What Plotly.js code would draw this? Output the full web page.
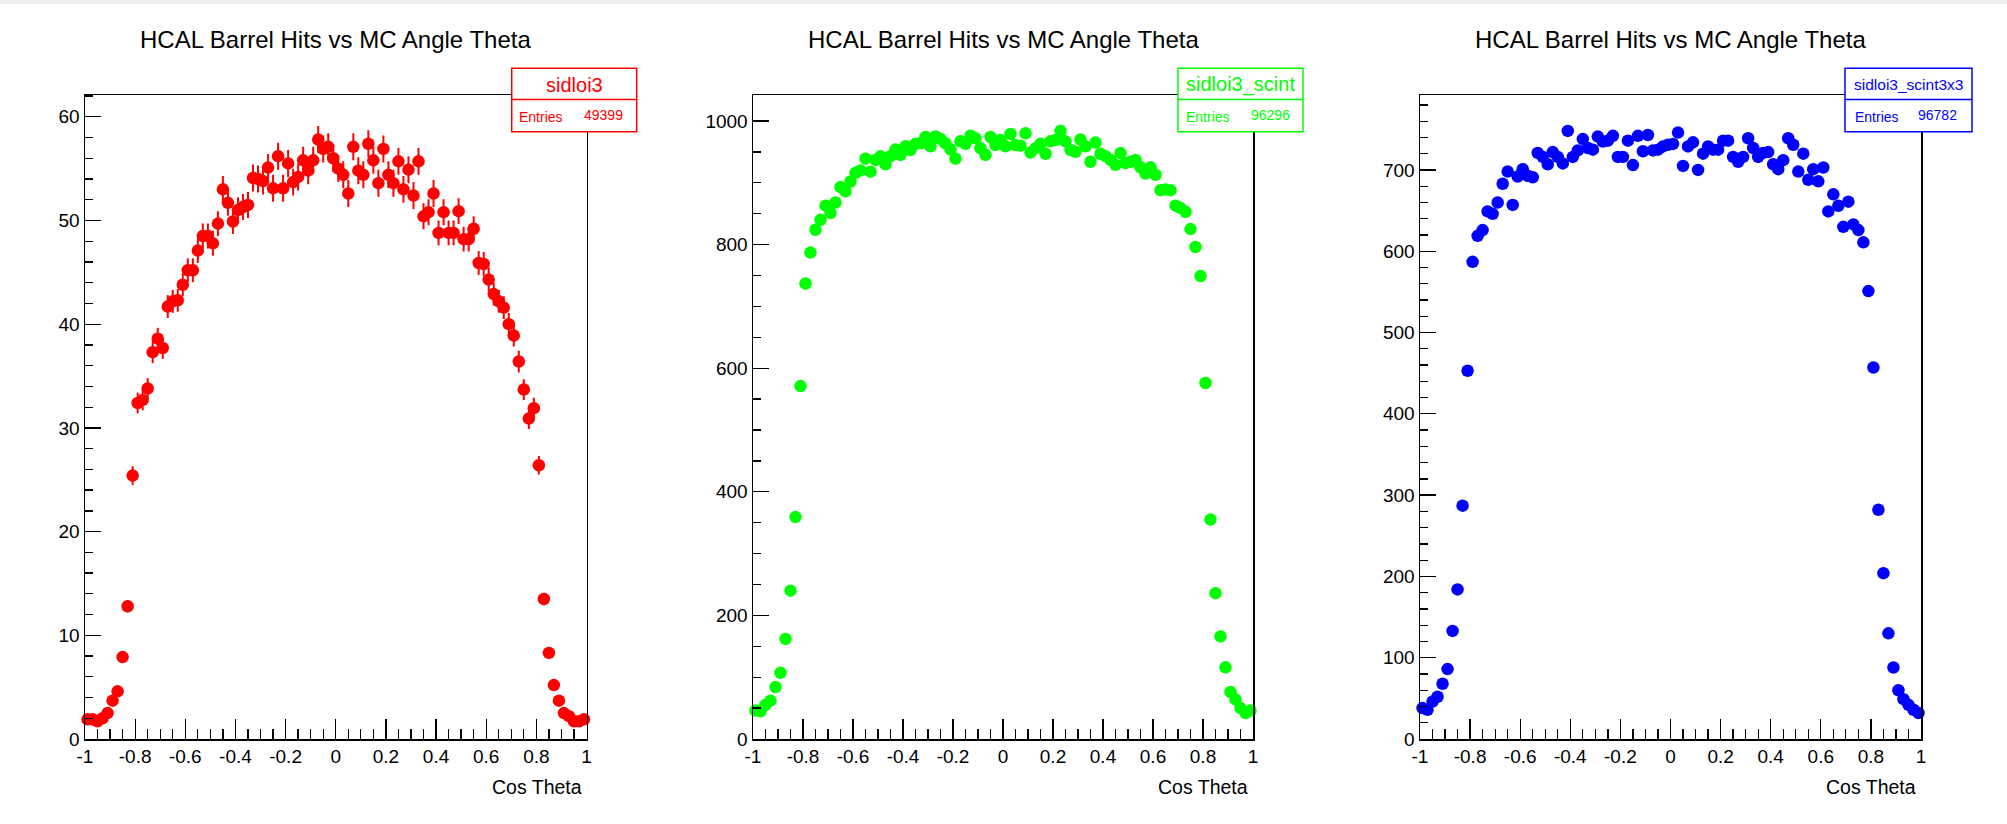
<!DOCTYPE html>
<html>
<head>
<meta charset="utf-8">
<script src="https://cdn.plot.ly/plotly-3.0.1.min.js"></script>
<style>
html,body{margin:0;padding:0;background:#ffffff;overflow:hidden;}
#chart{width:2007px;height:824px;}
</style>
</head>
<body>
<div id="chart"></div>
<script>
// ---------------- DATA ----------------
const chartTitle = "HCAL Barrel Hits vs MC Angle Theta";
const xAxisTitle = "Cos Theta";
const nBins = 100, xMin = -1, xMax = 1;

const seriesNames = ["sidloi3", "sidloi3_scint", "sidloi3_scint3x3"];
const entries = ["49399", "96296", "96782"];

const sidloi3 = [
  1.9, 1.9, 1.7, 2.0, 2.5, 3.7, 4.6, 7.9, 12.8, 25.4,
  32.4, 32.7, 33.8, 37.3, 38.6, 37.7, 41.7, 42.2, 42.3, 43.8,
  45.2, 45.2, 47.1, 48.5, 48.5, 47.8, 49.7, 53.0, 51.7, 49.9,
  51.0, 51.3, 51.5, 54.1, 54.0, 53.8, 55.1, 53.1, 56.2, 53.1,
  55.5, 53.7, 54.2, 55.8, 54.8, 55.8, 57.8, 56.9, 57.1, 56.0,
  55.0, 54.4, 52.6, 57.1, 54.8, 54.4, 57.4, 55.8, 53.6, 56.9,
  54.4, 53.6, 55.7, 53.0, 54.9, 52.4, 55.7, 50.4, 50.8, 52.6,
  48.8, 50.8, 48.8, 48.8, 50.9, 48.2, 48.2, 49.2, 45.9, 45.8,
  44.3, 42.9, 42.2, 41.6, 40.0, 38.9, 36.4, 33.7, 30.9, 31.9,
  26.4, 13.5, 8.3, 5.2, 3.7, 2.5, 2.2, 1.7, 1.7, 1.9
];
const sidloi3Err = [
  0.4, 0.4, 0.4, 0.4, 0.4, 0.45, 0.45, 0.5, 0.6, 0.9,
  1.0, 1.0, 1.0, 1.05, 1.05, 1.05, 1.1, 1.1, 1.1, 1.1,
  1.15, 1.15, 1.2, 1.2, 1.2, 1.2, 1.2, 1.3, 1.25, 1.2,
  1.25, 1.25, 1.25, 1.3, 1.3, 1.3, 1.3, 1.3, 1.3, 1.3,
  1.3, 1.3, 1.3, 1.3, 1.3, 1.3, 1.3, 1.3, 1.3, 1.3,
  1.3, 1.3, 1.3, 1.3, 1.3, 1.3, 1.3, 1.3, 1.3, 1.3,
  1.3, 1.3, 1.3, 1.3, 1.3, 1.3, 1.3, 1.25, 1.25, 1.3,
  1.2, 1.25, 1.2, 1.2, 1.25, 1.2, 1.2, 1.2, 1.15, 1.15,
  1.15, 1.1, 1.1, 1.1, 1.1, 1.05, 1.05, 1.0, 1.0, 1.0,
  0.9, 0.6, 0.5, 0.45, 0.4, 0.4, 0.4, 0.4, 0.4, 0.4
];
const sidloi3Scint = [
  46, 45, 55, 62, 84, 107, 162, 240, 359, 571,
  737, 787, 824, 840, 863, 851, 868, 893, 886, 902,
  916, 920, 939, 918, 937, 943, 930, 943, 954, 945,
  959, 953, 963, 964, 974, 959, 975, 971, 964, 954,
  939, 967, 963, 976, 972, 956, 945, 974, 961, 969,
  959, 979, 961, 960, 980, 949, 956, 963, 947, 967,
  969, 984, 967, 953, 950, 970, 959, 934, 965, 947,
  943, 937, 929, 948, 932, 934, 937, 925, 915, 925,
  913, 888, 889, 888, 863, 859, 853, 825, 796, 749,
  576, 355, 236, 166, 116, 76, 64, 50, 42, 46
];
const sidloi3Scint3x3 = [
  38, 36, 46, 52, 68, 86, 133, 184, 287, 453,
  587, 619, 626, 649, 646, 660, 683, 698, 657, 692,
  701, 693, 691, 721, 716, 707, 722, 716, 708, 748,
  716, 724, 738, 727, 725, 741, 735, 736, 742, 716,
  716, 736, 706, 742, 723, 743, 724, 725, 729, 731,
  732, 746, 705, 729, 734, 700, 720, 729, 725, 725,
  736, 736, 716, 710, 716, 739, 727, 716, 721, 722,
  707, 701, 712, 739, 731, 698, 720, 688, 701, 686,
  703, 649, 670, 656, 630, 661, 633, 626, 611, 551,
  457, 282, 204, 130, 88, 60, 49, 42, 36, 32
];

const xTickVals = [-1, -0.8, -0.6, -0.4, -0.2, 0, 0.2, 0.4, 0.6, 0.8, 1];
const xTickText = ["-1", "-0.8", "-0.6", "-0.4", "-0.2", "0", "0.2", "0.4", "0.6", "0.8", "1"];

// ---------------- LAYOUT ----------------
const W = 2007, H = 824;
const px = v => v / W;
const py = v => 1 - v / H;
const FONT = "Liberation Sans, Arial, Helvetica, sans-serif";
const colors = ["#ff0000", "#00ff00", "#0000ff"];

const binW = (xMax - xMin) / nBins;
const xCenters = [];
for (let i = 0; i < nBins; i++) xCenters.push(xMin + binW * (i + 0.5));

const panels = [
  {x0: 85, x1: 586.5, ymax: 62.1, dtick: 10, minor: 2, box: [511.7, 636.7], titleSize: 20, entX: [517, 625]},
  {x0: 753, x1: 1253, ymax: 1042, dtick: 200, minor: 50, box: [1178, 1303], titleSize: 20, entX: [1184, 1292]},
  {x0: 1420, x1: 1921, ymax: 792.2, dtick: 100, minor: 20, box: [1845, 1972], titleSize: 15.5, entX: [1853, 1959]}
];
const plotTop = 95, plotBot = 739;
const values = [sidloi3, sidloi3Scint, sidloi3Scint3x3];

const data = [];
const layout = {
  width: W, height: H,
  margin: {l: 0, r: 0, t: 0, b: 0, pad: 0},
  paper_bgcolor: "#ffffff", plot_bgcolor: "#ffffff",
  showlegend: false,
  font: {family: FONT, color: "#000000"},
  shapes: [], annotations: []
};

panels.forEach((p, k) => {
  const sfx = k === 0 ? "" : String(k + 1);
  const trace = {
    type: "scatter", mode: "markers",
    x: xCenters, y: values[k],
    xaxis: "x" + sfx, yaxis: "y" + sfx,
    marker: {color: colors[k], size: 12.5, symbol: "circle", line: {width: 0}},
    cliponaxis: false, hoverinfo: "skip"
  };
  if (k === 0) {
    trace.error_y = {type: "data", array: sidloi3Err, visible: true, color: colors[0], thickness: 2, width: 0};
  }
  data.push(trace);

  layout["xaxis" + sfx] = {
    domain: [px(p.x0), px(p.x1)], anchor: "y" + sfx,
    range: [xMin, xMax], tickmode: "array", tickvals: xTickVals, ticktext: xTickText,
    ticks: "inside", ticklen: 20, tickwidth: 1.3, tickcolor: "#000",
    minor: {dtick: 0.05, tick0: -1, ticks: "inside", ticklen: 10, tickwidth: 1.3, tickcolor: "#000", showgrid: false},
    showline: true, mirror: true, linecolor: "#000", linewidth: 1.5,
    showgrid: false, zeroline: false, fixedrange: true,
    tickfont: {family: FONT, size: 19, color: "#000"}
  };
  layout["yaxis" + sfx] = {
    domain: [py(plotBot), py(plotTop)], anchor: "x" + sfx,
    range: [0, p.ymax], tickmode: "linear", tick0: 0, dtick: p.dtick,
    ticks: "inside", ticklen: 16, tickwidth: 1.3, tickcolor: "#000",
    minor: {dtick: p.minor, tick0: 0, ticks: "inside", ticklen: 8, tickwidth: 1.3, tickcolor: "#000", showgrid: false},
    showline: true, mirror: true, linecolor: "#000", linewidth: 1.5,
    showgrid: false, zeroline: false, fixedrange: true,
    tickfont: {family: FONT, size: 19, color: "#000"}
  };

  // title
  layout.annotations.push({
    xref: "paper", yref: "paper", x: px((p.x0 + p.x1) / 2), y: py(39.5),
    xanchor: "center", yanchor: "middle", showarrow: false,
    text: chartTitle, font: {family: FONT, size: 24, color: "#000"}
  });
  // axis title
  layout.annotations.push({
    xref: "paper", yref: "paper", x: px(p.x1 - 3), y: py(787),
    xanchor: "right", yanchor: "middle", showarrow: false,
    text: xAxisTitle, font: {family: FONT, size: 19.5, color: "#000"}
  });
  // stats box
  layout.shapes.push({
    type: "rect", xref: "paper", yref: "paper", layer: "above",
    x0: px(p.box[0]), x1: px(p.box[1]), y0: py(131.7), y1: py(68.3),
    fillcolor: "#ffffff", line: {color: colors[k], width: 1.5}
  });
  layout.shapes.push({
    type: "line", xref: "paper", yref: "paper", layer: "above",
    x0: px(p.box[0]), x1: px(p.box[1]), y0: py(99.5), y1: py(99.5),
    line: {color: colors[k], width: 1.5}
  });
  layout.annotations.push({
    xref: "paper", yref: "paper", x: px((p.box[0] + p.box[1]) / 2), y: py(84.5),
    xanchor: "center", yanchor: "middle", showarrow: false,
    text: seriesNames[k], font: {family: FONT, size: p.titleSize, color: colors[k]}
  });
  layout.annotations.push({
    xref: "paper", yref: "paper", x: px(p.entX[0]), y: py(116.5),
    xanchor: "left", yanchor: "middle", showarrow: false,
    text: "Entries", font: {family: FONT, size: 14, color: colors[k]}
  });
  layout.annotations.push({
    xref: "paper", yref: "paper", x: px(p.entX[1]), y: py(115),
    xanchor: "right", yanchor: "middle", showarrow: false,
    text: entries[k], font: {family: FONT, size: 14, color: colors[k]}
  });
});

// thin grey strip on top edge of the canvas
layout.shapes.push({
  type: "rect", xref: "paper", yref: "paper", layer: "below",
  x0: 0, x1: 1, y0: py(4), y1: 1, fillcolor: "#efefef", line: {width: 0}
});

Plotly.newPlot("chart", data, layout, {displayModeBar: false, staticPlot: true});
</script>
</body>
</html>
